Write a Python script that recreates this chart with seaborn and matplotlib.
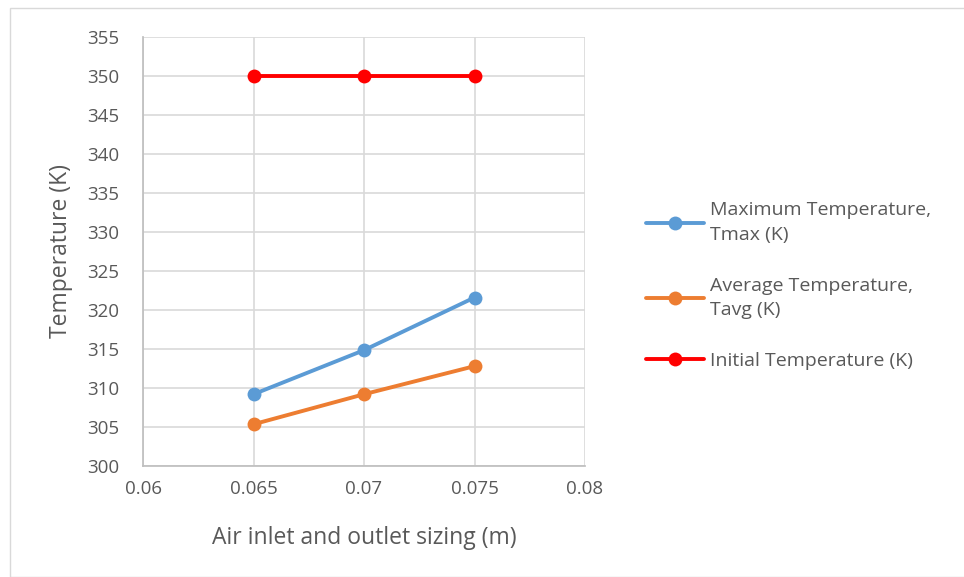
import matplotlib
matplotlib.use("Agg")
import matplotlib.pyplot as plt
import seaborn as sns
import pandas as pd

sizing = [0.065, 0.07, 0.075]
t_max = [309.2, 314.85, 321.6]
t_avg = [305.35, 309.2, 312.8]
t_init = [350, 350, 350]
labels = ["Maximum Temperature,\nTmax (K)", "Average Temperature,\nTavg (K)", "Initial Temperature (K)"]
colors = ["#5B9BD5", "#ED7D31", "#FF0000"]

df = pd.DataFrame({
    "x": sizing * 3,
    "y": t_max + t_avg + t_init,
    "series": [labels[0]] * 3 + [labels[1]] * 3 + [labels[2]] * 3,
})

sns.set_theme(style="white")
plt.rcParams["font.family"] = ["Open Sans", "DejaVu Sans"]

fig = plt.figure(figsize=(9.64, 5.77), dpi=100)
ax = fig.add_axes([143/964, (577-466)/577, 442/964, 429/577])

sns.lineplot(data=df, x="x", y="y", hue="series", palette=colors, hue_order=labels,
             marker="o", markersize=10, markeredgewidth=0, linewidth=2.8, ax=ax, legend=True)

ax.set_xlim(0.06, 0.08)
ax.set_ylim(300, 355)
ax.set_xticks([0.06, 0.065, 0.07, 0.075, 0.08])
ax.set_xticklabels(["0.06", "0.065", "0.07", "0.075", "0.08"])
ax.set_yticks(range(300, 356, 5))
ax.grid(True, color="#d9d9d9", linewidth=1.2)
ax.set_axisbelow(True)
for s in ax.spines.values():
    s.set_visible(False)
ax.spines["left"].set_visible(True)
ax.spines["bottom"].set_visible(True)
ax.spines["left"].set_color("#bfbfbf")
ax.spines["bottom"].set_color("#bfbfbf")
ax.tick_params(axis="both", colors="#595959", labelsize=13.5, length=0)
ax.tick_params(axis="y", pad=17)
ax.tick_params(axis="x", pad=10)
ax.set_xlabel("Air inlet and outlet sizing (m)", fontsize=16.5, color="#595959", labelpad=20)
ax.set_ylabel("Temperature (K)", fontsize=16.5, color="#595959", labelpad=10)

handles, labs = ax.get_legend_handles_labels()
ax.get_legend().remove()
leg = fig.legend(handles, labs, loc="center left", bbox_to_anchor=(0.652, 0.505),
                 frameon=False, fontsize=14, handlelength=3.0, labelspacing=1.7,
                 handletextpad=0.3)
for t in leg.get_texts():
    t.set_color("#595959")
    t.set_linespacing(1.45)

border = plt.Rectangle((10/964, 0), 1, (577-8)/577, transform=fig.transFigure,
                       fill=False, edgecolor="#d9d9d9", linewidth=1)
fig.patches.append(border)

fig.savefig("out.png", dpi=100)
